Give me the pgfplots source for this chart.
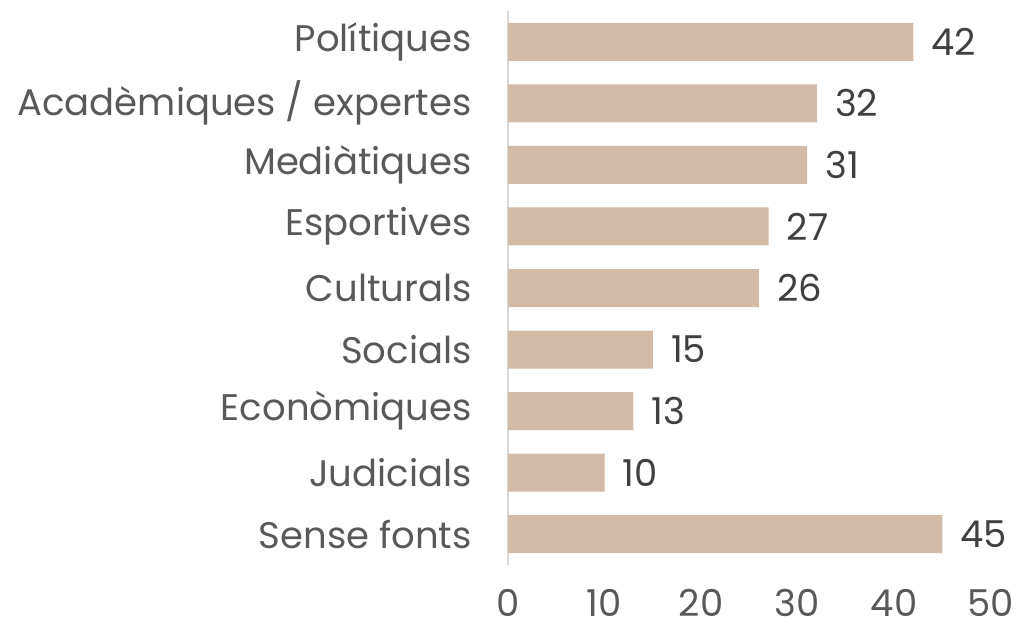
\documentclass[border=0pt]{standalone}
\usepackage{fontspec}
\setmainfont{Poppins}
\usepackage{pgfplots}
\pgfplotsset{compat=1.18}
\definecolor{barc}{HTML}{D3BAA6}
\definecolor{txt}{HTML}{595959}
\definecolor{num}{HTML}{404040}
\definecolor{axc}{HTML}{D9D9D9}
\begin{document}
\begin{tikzpicture}
\useasboundingbox (0,0) rectangle (508.5pt,314.5pt);
\begin{axis}[
  at={(254pt,32pt)}, anchor=south west,
  scale only axis, width=241.25pt, height=277pt,
  xbar, bar width=19pt,
  xmin=0, xmax=50, ymin=-0.5, ymax=8.5,
  xtick={0,10,...,50},
  ytick={0,...,8},
  yticklabels={Sense fonts,Judicials,Econòmiques,Socials,Culturals,Esportives,Mediàtiques,Acadèmiques / expertes,Polítiques},
  axis lines*=left,
  x axis line style={draw=none},
  y axis line style={draw=axc, line width=0.8pt},
  major tick length=0pt,
  /pgf/number format/assume math mode=true,
  tick label style={font=\fontsize{18.5}{22}\selectfont, text=txt},
  yticklabel style={inner sep=0pt, xshift=-18pt},
  xticklabel style={inner sep=0pt, anchor=base, yshift=-25.5pt},
  nodes near coords,
  every node near coord/.append style={anchor=west, inner sep=0pt, xshift=9pt, font=\fontsize{18.5}{22}\selectfont, text=num},
  clip=false,
]
\addplot[fill=barc, draw=none] coordinates {
(45,0) (10,1) (13,2) (15,3) (26,4) (27,5) (31,6) (32,7) (42,8)
};
\end{axis}
\end{tikzpicture}
\end{document}
